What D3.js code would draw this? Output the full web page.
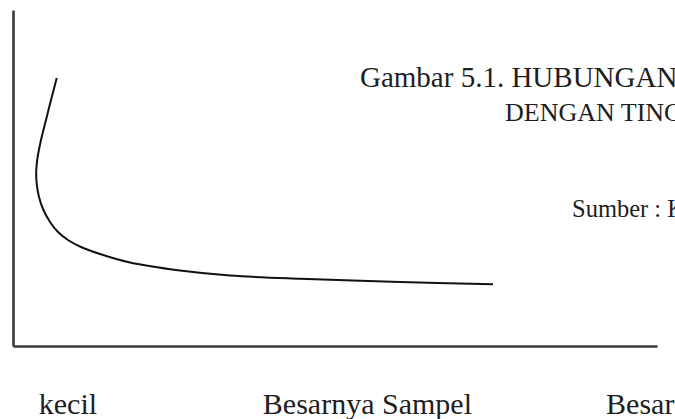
<!DOCTYPE html>
<html>
<head>
<meta charset="utf-8">
<script src="https://cdn.jsdelivr.net/npm/d3@7/dist/d3.min.js"></script>
<style>
  html, body { margin: 0; padding: 0; background: #fff; }
  svg { display: block; }
  text { font-family: "Liberation Serif", "Times New Roman", serif; fill: #1e1e1e; }
</style>
</head>
<body>
<script>
// Curve: sample size (x) vs error level (y), arbitrary units
const curveX = [6.79, 5.90, 5.12, 4.35, 3.80, 3.60, 3.70, 4.04, 4.66, 5.75, 6.99, 8.54, 10.40, 13.51, 18.17, 25.93, 33.70, 44.57, 60.09, 74.53];
const curveY = [79.76, 73.21, 67.26, 61.31, 55.95, 51.79, 47.92, 44.35, 40.77, 36.90, 33.93, 31.55, 29.61, 27.38, 24.85, 22.47, 20.98, 20.00, 19.08, 18.36];

// Axis labels
const xLabels = ["kecil", "Besarnya Sampel", "Besar"];
const xLabelPos = [4.0, 38.8, 92.1];
const titleLine1 = "Gambar 5.1. HUBUNGAN BESARNYA SAMPEL";
const titleLine2 = "DENGAN TINGKAT KESALAHAN";
const sourceText = "Sumber : Kerlinger";

const W = 675, H = 419;
const svg = d3.select("body").append("svg").attr("width", W).attr("height", H);

const x = d3.scaleLinear().domain([0, 100]).range([13, 657]);
const y = d3.scaleLinear().domain([0, 100]).range([346, 10]);

// Axes (domain lines only)
const xAxis = d3.axisBottom(x).tickValues([]).tickSizeOuter(0);
const yAxis = d3.axisLeft(y).tickValues([]).tickSizeOuter(0);
svg.append("g").attr("transform", `translate(0,${y(0)})`).call(xAxis)
  .select(".domain").attr("stroke", "#3a3a3a").attr("stroke-width", 2.6);
svg.append("g").attr("transform", `translate(${x(0)},0)`).call(yAxis)
  .select(".domain").attr("stroke", "#3a3a3a").attr("stroke-width", 2.6);

// Curve
const pts = curveX.map((v, i) => [v, curveY[i]]);
const line = d3.line().x(d => x(d[0])).y(d => y(d[1])).curve(d3.curveCatmullRom.alpha(0.5));
svg.append("path").datum(pts).attr("d", line)
  .attr("fill", "none").attr("stroke", "#111").attr("stroke-width", 2);

// Bottom labels
svg.selectAll("text.xl").data(xLabels).enter().append("text")
  .attr("class", "xl")
  .attr("x", (d, i) => x(xLabelPos[i]))
  .attr("y", 414)
  .attr("font-size", 30)
  .text(d => d);

// Title
svg.append("text").attr("x", 360).attr("y", 87).attr("font-size", 29).text(titleLine1);
svg.append("text").attr("x", 505).attr("y", 121).attr("font-size", 26).text(titleLine2);
svg.append("text").attr("x", 572).attr("y", 217).attr("font-size", 24.5).text(sourceText);
</script>
</body>
</html>
